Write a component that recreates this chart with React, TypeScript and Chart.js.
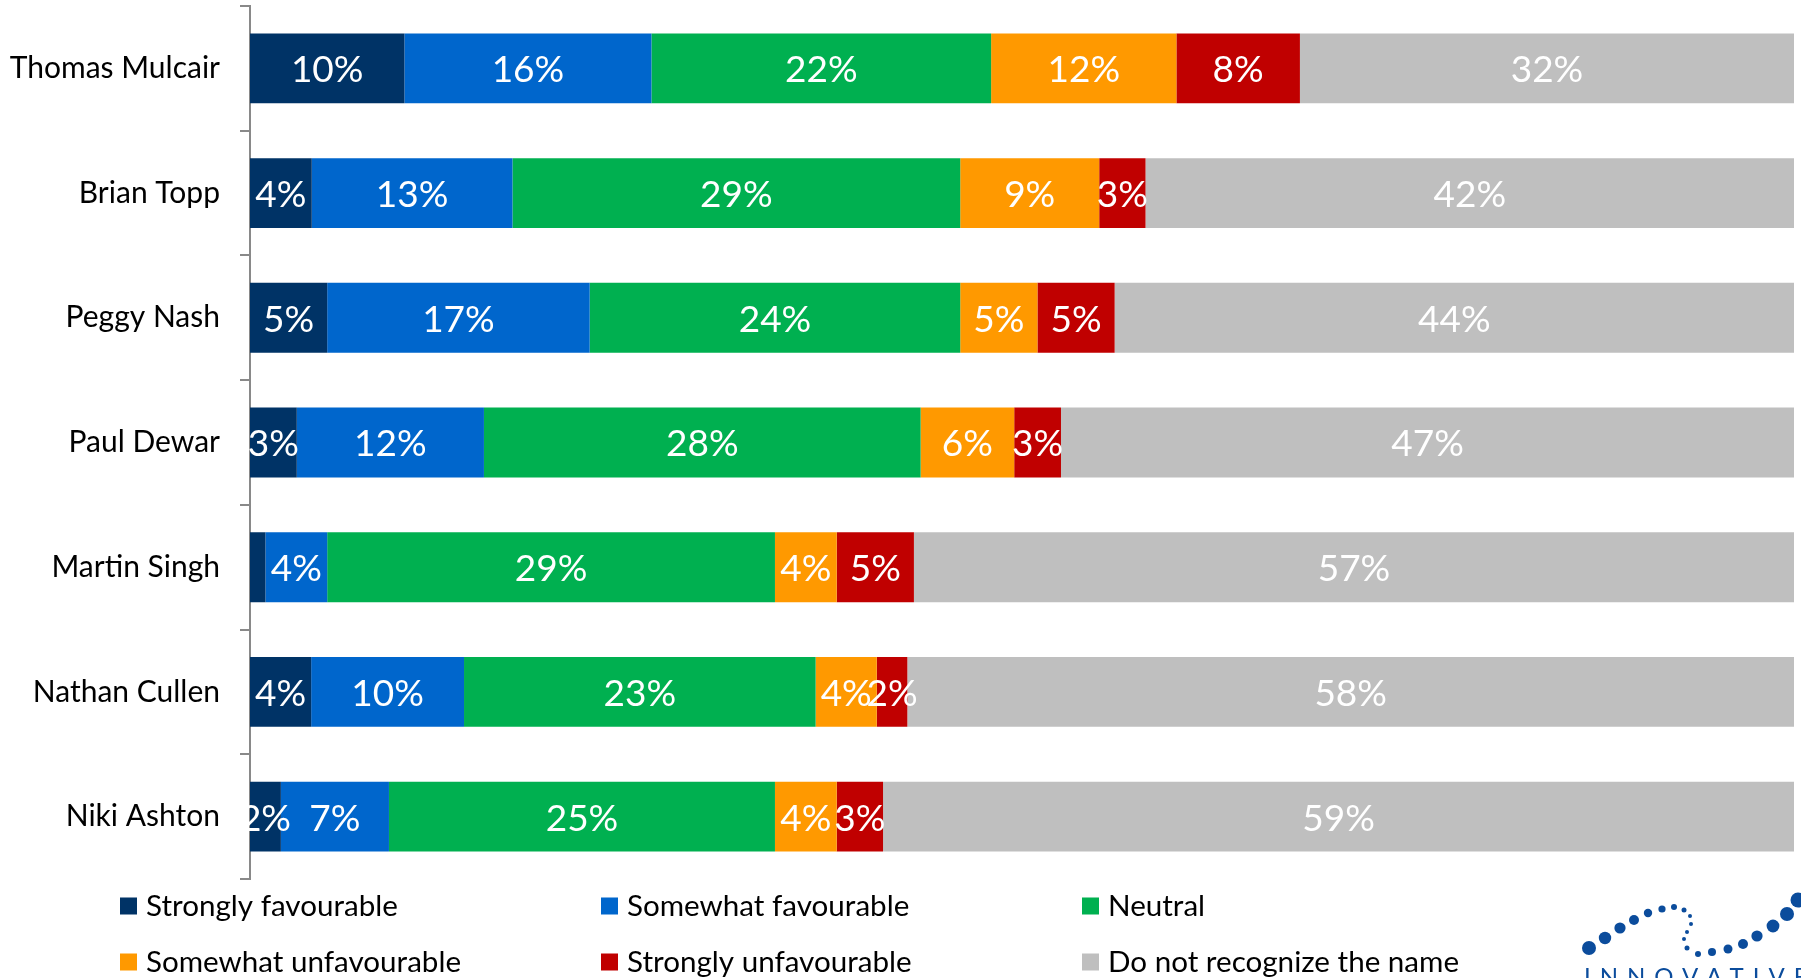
import React, { useEffect, useRef } from 'react';
import { Chart, registerables } from 'chart.js';

Chart.register(...registerables);

const FONT = 'Lato, "Open Sans", sans-serif';

const categories = ['Thomas Mulcair', 'Brian Topp', 'Peggy Nash', 'Paul Dewar', 'Martin Singh', 'Nathan Cullen', 'Niki Ashton'];

const seriesNames = [
  'Strongly favourable',
  'Somewhat favourable',
  'Neutral',
  'Somewhat unfavourable',
  'Strongly unfavourable',
  'Do not recognize the name',
];

const stronglyFavourable = [10, 4, 5, 3, 1, 4, 2];
const somewhatFavourable = [16, 13, 17, 12, 4, 10, 7];
const neutral = [22, 29, 24, 28, 29, 23, 25];
const somewhatUnfavourable = [12, 9, 5, 6, 4, 4, 4];
const stronglyUnfavourable = [8, 3, 5, 3, 5, 2, 3];
const notRecognize = [32, 42, 44, 47, 57, 58, 59];

const seriesValues = [stronglyFavourable, somewhatFavourable, neutral, somewhatUnfavourable, stronglyUnfavourable, notRecognize];
const seriesColors = ['#003366', '#0066CC', '#00B050', '#FF9900', '#C00000', '#BFBFBF'];

// 100% stacked: normalise each row to its total
const rowTotals = categories.map((_, i) => seriesValues.reduce((s, arr) => s + arr[i], 0));

const segmentLabels = {
  id: 'segmentLabels',
  afterDatasetsDraw(chart: any) {
    const ctx = chart.ctx;
    ctx.save();
    ctx.font = `37px ${FONT}`;
    ctx.fillStyle = '#ffffff';
    ctx.textAlign = 'center';
    ctx.textBaseline = 'middle';
    chart.data.datasets.forEach((_: any, di: number) => {
      const meta = chart.getDatasetMeta(di);
      const raw = seriesValues[di];
      meta.data.forEach((el: any, i: number) => {
        const v = raw[i];
        if (v < 2) return;
        const p = el.getProps(['x', 'y', 'base'], true);
        ctx.fillText(`${v}%`, (p.x + p.base) / 2, p.y + 2);
      });
    });
    ctx.restore();
  },
};

const gridLegend = {
  id: 'gridLegend',
  afterDraw(chart: any) {
    const ctx = chart.ctx;
    ctx.save();
    ctx.font = `29.6px ${FONT}`;
    ctx.textBaseline = 'middle';
    ctx.textAlign = 'left';
    const colX = [120, 601, 1082];
    const rowY = [906, 962];
    seriesNames.forEach((name, i) => {
      const x = colX[i % 3];
      const y = rowY[Math.floor(i / 3)];
      ctx.fillStyle = seriesColors[i];
      ctx.fillRect(x, y - 8.5, 17, 17);
      ctx.fillStyle = '#000000';
      ctx.fillText(name, x + 26, y);
    });
    ctx.restore();
  },
};

const logo = {
  id: 'logo',
  afterDraw(chart: any) {
    const ctx = chart.ctx;
    ctx.save();
    ctx.fillStyle = '#0B4C9C';
    const dots: [number, number, number][] = [
      [1589, 948, 7], [1605, 938, 6.2], [1620, 928, 5.6], [1634, 920, 5], [1648, 913, 4.2],
      [1662, 909, 3.6], [1674, 907, 3], [1684, 910, 2.5], [1690, 916, 2], [1691, 924, 2],
      [1687, 932, 2], [1684, 939, 2], [1687, 948, 2.5], [1698, 954, 3], [1712, 952, 4],
      [1728, 949, 4.5], [1743, 944, 5], [1757, 936, 5.6], [1773, 926, 6.4], [1787, 914, 7], [1798, 900, 7.5],
    ];
    dots.forEach(([x, y, r]) => {
      ctx.beginPath();
      ctx.arc(x, y, r, 0, Math.PI * 2);
      ctx.fill();
    });
    ctx.font = `24px ${FONT}`;
    ctx.textBaseline = 'top';
    ctx.textAlign = 'left';
    (ctx as any).letterSpacing = '9px';
    ctx.fillText('INNOVATIVE', 1584, 965);
    ctx.restore();
  },
};

export default function App() {
  const canvasRef = useRef<HTMLCanvasElement | null>(null);

  useEffect(() => {
    if (!canvasRef.current) return;
    const chart = new Chart(canvasRef.current, {
      type: 'bar',
      data: {
        labels: categories,
        datasets: seriesNames.map((name, di) => ({
          label: name,
          data: seriesValues[di].map((v, i) => (v / rowTotals[i]) * 100),
          backgroundColor: seriesColors[di],
          borderWidth: 0,
          categoryPercentage: 1,
          barPercentage: 0.56,
        })),
      },
      options: {
        indexAxis: 'y',
        animation: false,
        responsive: true,
        maintainAspectRatio: false,
        layout: { autoPadding: false, padding: { top: 6, right: 7, bottom: 99, left: 0 } },
        plugins: {
          legend: { display: false },
          tooltip: { enabled: false },
        },
        scales: {
          x: { stacked: true, display: false, min: 0, max: 100 },
          y: {
            stacked: true,
            grid: {
              offset: true,
              drawOnChartArea: false,
              drawTicks: true,
              tickLength: 10,
              color: '#898989',
              lineWidth: 2,
            },
            border: { display: true, color: '#898989', width: 2 },
            ticks: {
              color: '#000000',
              padding: 20,
              font: { family: FONT, size: 30 },
            },
            afterFit: (scale: any) => {
              scale.width = 250;
              scale.paddingTop = 0;
              scale.paddingBottom = 0;
            },
          },
        },
      },
      plugins: [segmentLabels, gridLegend, logo],
    });
    return () => chart.destroy();
  }, []);

  return (
    <div style={{ position: 'fixed', left: 0, top: 0, width: '1801px', height: '978px', background: '#ffffff' }}>
      <canvas ref={canvasRef} />
    </div>
  );
}
